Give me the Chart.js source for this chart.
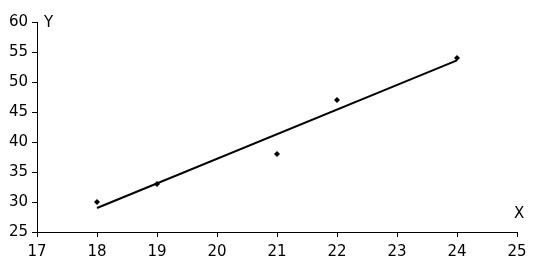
<!DOCTYPE html>
<html><head><meta charset="utf-8">
<script src="https://cdn.jsdelivr.net/npm/chart.js@4/dist/chart.umd.min.js"></script>
<style>html,body{margin:0;padding:0;background:#fff;}#wrap{width:534px;height:277px;position:relative;}</style>
</head><body><div id="wrap"><canvas id="c" width="534" height="277"></canvas></div>
<script>
const xValues = [18, 19, 21, 22, 24];
const yValues = [30, 33, 38, 47, 54];
const trendX = [18, 24];
const trendY = [29, 53.6];
const xTitle = "X";
const yTitle = "Y";

const font = {family: "'DejaVu Sans', sans-serif", size: 15};

const titlePlugin = {
  id: 'axisTitles',
  afterDraw(chart) {
    const ctx = chart.ctx, a = chart.chartArea;
    ctx.save();
    ctx.fillStyle = '#000';
    ctx.font = "15px 'DejaVu Sans', sans-serif";
    ctx.textBaseline = 'middle';
    ctx.textAlign = 'left';
    ctx.fillText(yTitle, a.left + 7, a.top + 1);
    ctx.fillText(xTitle, a.right - 3, a.bottom - 18);
    ctx.restore();
  }
};

new Chart(document.getElementById('c'), {
  type: 'scatter',
  data: {
    datasets: [
      {type: 'scatter', data: xValues.map((x, i) => ({x, y: yValues[i]})),
       pointStyle: 'rectRot', pointRadius: 3, backgroundColor: '#000', borderColor: '#000', borderWidth: 0},
      {type: 'line', data: trendX.map((x, i) => ({x, y: trendY[i]})),
       borderColor: '#000', borderWidth: 2, pointRadius: 0, fill: false}
    ]
  },
  options: {
    responsive: false, animation: false,
    layout: {padding: {top: 22, right: 17, left: 0, bottom: 0}},
    plugins: {legend: {display: false}, tooltip: {enabled: false}},
    scales: {
      x: {type: 'linear', min: 17, max: 25,
          afterFit(s) { s.height = 45; },
          border: {color: '#000', width: 1},
          grid: {drawOnChartArea: false, color: '#000', tickLength: 5},
          ticks: {stepSize: 1, color: '#000', font, padding: 6, maxRotation: 0}},
      y: {type: 'linear', min: 25, max: 60,
          afterFit(s) { s.width = 37; },
          border: {color: '#000', width: 1},
          grid: {drawOnChartArea: false, color: '#000', tickLength: 5},
          ticks: {stepSize: 5, color: '#000', font, padding: 4}}
    }
  },
  plugins: [titlePlugin]
});
</script></body></html>
